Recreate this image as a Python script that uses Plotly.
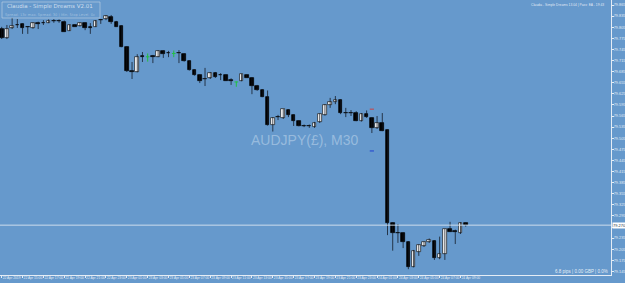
import plotly.graph_objects as go

# ---- data (AUDJPY M30) ----
x_labels = ["22 Apr 2019", "22 Apr 15:00", "22 Apr 17:00", "22 Apr 19:00", "22 Apr 21:00", "22 Apr 23:00",
            "23 Apr 01:00", "23 Apr 03:00", "23 Apr 05:00", "23 Apr 07:00", "23 Apr 09:00", "23 Apr 11:00",
            "23 Apr 13:00", "23 Apr 15:00", "23 Apr 17:00", "23 Apr 19:00", "23 Apr 21:00", "23 Apr 23:00",
            "24 Apr 01:00", "24 Apr 03:00", "24 Apr 05:00", "24 Apr 07:00", "24 Apr 09:00"]

opens = [79.800, 79.776, 79.803, 79.811, 79.814, 79.806, 79.803, 79.816, 79.817, 79.816,
         79.822, 79.822, 79.820, 79.796, 79.811, 79.808, 79.816, 79.805, 79.806, 79.825,
         79.826, 79.833, 79.820, 79.808, 79.752, 79.686, 79.685, 79.726, 79.725, 79.726,
         79.725, 79.741, 79.735, 79.734, 79.735, 79.733, 79.714, 79.689, 79.676, 79.664,
         79.667, 79.682, 79.676, 79.676, 79.661, 79.657, 79.660, 79.676, 79.669, 79.647,
         79.635, 79.617, 79.541, 79.562, 79.559, 79.581, 79.568, 79.551, 79.539, 79.538,
         79.534, 79.548, 79.568, 79.595, 79.604, 79.608, 79.574, 79.574, 79.574, 79.552,
         79.570, 79.559, 79.532, 79.545, 79.527, 79.277, 79.250, 79.248, 79.225, 79.158,
         79.198, 79.214, 79.224, 79.227, 79.180, 79.192, 79.259, 79.253, 79.250, 79.275]
highs = [79.806, 79.811, 79.830, 79.827, 79.815, 79.807, 79.818, 79.820, 79.824, 79.826,
         79.827, 79.826, 79.823, 79.812, 79.812, 79.818, 79.818, 79.816, 79.824, 79.827,
         79.838, 79.838, 79.822, 79.810, 79.754, 79.711, 79.732, 79.738, 79.734, 79.730,
         79.743, 79.742, 79.741, 79.742, 79.743, 79.734, 79.715, 79.691, 79.677, 79.695,
         79.684, 79.684, 79.681, 79.677, 79.667, 79.658, 79.679, 79.677, 79.670, 79.649,
         79.637, 79.634, 79.562, 79.568, 79.584, 79.583, 79.569, 79.553, 79.542, 79.542,
         79.549, 79.572, 79.597, 79.614, 79.619, 79.610, 79.587, 79.581, 79.578, 79.573,
         79.580, 79.561, 79.565, 79.573, 79.528, 79.278, 79.273, 79.250, 79.227, 79.203,
         79.218, 79.226, 79.234, 79.229, 79.239, 79.260, 79.279, 79.258, 79.278, 79.277]
lows = [79.773, 79.773, 79.800, 79.803, 79.787, 79.787, 79.801, 79.800, 79.811, 79.816,
        79.817, 79.817, 79.792, 79.795, 79.806, 79.807, 79.797, 79.787, 79.806, 79.814,
        79.824, 79.814, 79.806, 79.751, 79.684, 79.665, 79.683, 79.711, 79.712, 79.708,
        79.724, 79.722, 79.724, 79.724, 79.708, 79.712, 79.688, 79.674, 79.654, 79.646,
        79.665, 79.668, 79.662, 79.660, 79.649, 79.644, 79.659, 79.668, 79.624, 79.633,
        79.616, 79.539, 79.523, 79.554, 79.557, 79.562, 79.538, 79.537, 79.535, 79.533,
        79.533, 79.546, 79.566, 79.587, 79.597, 79.570, 79.562, 79.565, 79.551, 79.550,
        79.560, 79.519, 79.530, 79.524, 79.243, 79.201, 79.222, 79.208, 79.151, 79.156,
        79.187, 79.211, 79.222, 79.176, 79.178, 79.176, 79.252, 79.219, 79.246, 79.266]
closes = [79.776, 79.800, 79.808, 79.810, 79.803, 79.805, 79.816, 79.815, 79.816, 79.823,
          79.821, 79.821, 79.793, 79.811, 79.806, 79.816, 79.803, 79.804, 79.823, 79.824,
          79.835, 79.820, 79.806, 79.752, 79.687, 79.685, 79.725, 79.725, 79.725, 79.725,
          79.741, 79.733, 79.734, 79.734, 79.734, 79.714, 79.689, 79.676, 79.660, 79.666,
          79.682, 79.671, 79.675, 79.660, 79.660, 79.657, 79.678, 79.669, 79.647, 79.635,
          79.617, 79.541, 79.560, 79.561, 79.583, 79.568, 79.551, 79.539, 79.538, 79.537,
          79.547, 79.570, 79.595, 79.604, 79.608, 79.572, 79.573, 79.573, 79.552, 79.570,
          79.561, 79.532, 79.545, 79.525, 79.277, 79.250, 79.249, 79.225, 79.158, 79.200,
          79.216, 79.224, 79.230, 79.180, 79.191, 79.259, 79.252, 79.252, 79.277, 79.270]

price_ticks = [79.865, 79.835, 79.805, 79.775, 79.745, 79.715, 79.685, 79.655, 79.625, 79.595,
               79.565, 79.535, 79.505, 79.475, 79.445, 79.415, 79.385, 79.355, 79.325, 79.295,
               79.265, 79.235, 79.205, 79.175, 79.145]
current_price = 79.270

# ---- styling ----
BG = "#6699CC"
AXC = "#E4ECF5"
FONT = "Liberation Sans"
n = len(opens)
idx = list(range(n))

fig = go.Figure()

# wicks
wx, wy, gx, gy = [], [], [], []
for i in idx:
    if opens[i] == closes[i]:
        gx += [i, i, None, i - 0.35, i + 0.35, None]
        gy += [lows[i], highs[i], None, opens[i], opens[i], None]
    else:
        wx += [i, i, None]
        wy += [lows[i], highs[i], None]
fig.add_trace(go.Scatter(x=wx, y=wy, mode="lines", line=dict(color="rgba(15,20,30,0.75)", width=1),
                         hoverinfo="skip"))
fig.add_trace(go.Scatter(x=gx, y=gy, mode="lines", line=dict(color="#22C040", width=1), hoverinfo="skip"))

up = [i for i in idx if closes[i] > opens[i]]
dn = [i for i in idx if closes[i] < opens[i]]
fig.add_trace(go.Bar(x=up, base=[opens[i] for i in up], y=[closes[i] - opens[i] for i in up],
                     width=0.7, marker=dict(color="white", line=dict(color="#111", width=0.7))))
fig.add_trace(go.Bar(x=dn, base=[closes[i] for i in dn], y=[opens[i] - closes[i] for i in dn],
                     width=0.7, marker=dict(color="black", line=dict(color="#000", width=0.7))))

# small object marks
fig.add_trace(go.Scatter(x=[71], y=[79.5835], mode="markers",
                         marker=dict(symbol="line-ew", size=3, line=dict(color="#D04040", width=1))))
fig.add_trace(go.Scatter(x=[71], y=[79.4705], mode="markers",
                         marker=dict(symbol="line-ew", size=3, line=dict(color="#2040D0", width=1))))

# bid line
fig.add_shape(type="line", xref="paper", x0=0, x1=1, yref="y", y0=current_price, y1=current_price,
              line=dict(color="rgba(215,228,240,0.9)", width=1))
fig.add_annotation(xref="paper", x=1, yref="y", y=current_price, xanchor="left", yanchor="middle",
                   text="%.3f" % current_price, showarrow=False, bgcolor="white",
                   font=dict(size=4, color="#203040", family=FONT), xshift=1, borderpad=0)

# watermark
fig.add_annotation(xref="paper", yref="paper", x=304.5 / 611, y=1 - 140 / 275, text="AUDJPY(£), M30",
                   showarrow=False, font=dict(size=14, color="rgba(215,230,245,0.45)", family=FONT),
                   xanchor="center", yanchor="middle")

# info box top-left
fig.add_shape(type="rect", xref="paper", yref="paper", x0=2 / 611, x1=100 / 611, y0=1 - 18 / 275, y1=1 - 2 / 275,
              line=dict(color="rgba(200,215,230,0.55)", width=1), fillcolor="rgba(0,0,0,0)")
fig.add_annotation(xref="paper", yref="paper", x=5 / 611, y=1 - 6.5 / 275, text="Claudia - Simple Dreams V2.01",
                   showarrow=False, xanchor="left", yanchor="middle",
                   font=dict(size=5.5, color="rgba(225,235,245,0.85)", family="DejaVu Sans"))
fig.add_annotation(xref="paper", yref="paper", x=3 / 611, y=1 - 14.5 / 275,
                   text="Spread: 13c max. Spread: 30 | Min. Stop Level: 0c",
                   showarrow=False, xanchor="left", yanchor="middle",
                   font=dict(size=3.6, color="rgba(190,210,230,0.7)", family="DejaVu Sans"))
# top-right info
fig.add_annotation(xref="paper", yref="paper", x=606 / 611, y=1 - 5 / 275,
                   text="Claudia - Simple Dreams 13.04 | Pass: EA - 19:43",
                   showarrow=False, xanchor="right", yanchor="middle",
                   font=dict(size=3.3, color="rgba(235,240,248,0.95)", family=FONT))
# bottom-right info
fig.add_annotation(xref="paper", yref="paper", x=610 / 611, y=1 - 271 / 275,
                   text="6.8 pips | 0.00 GBP | 0.0%",
                   showarrow=False, xanchor="right", yanchor="middle",
                   font=dict(size=4.5, color="rgba(240,245,250,0.95)", family=FONT))

tick_text = ["%.3f" % v for v in price_ticks]
tick_text = ["" if abs(v - current_price) < 0.008 else t for v, t in zip(price_ticks, tick_text)]

px_per_bar = 5.2135
x0 = -1.7 / px_per_bar
fig.update_layout(
    width=625, height=283, margin=dict(l=0, r=14, t=0, b=8, pad=0),
    paper_bgcolor=BG, plot_bgcolor=BG, showlegend=False, barmode="overlay", bargap=0,
    xaxis=dict(range=[x0, x0 + 611 / px_per_bar], tickvals=list(range(0, n, 4)), ticktext=x_labels,
               tickfont=dict(size=3.3, color=AXC, family=FONT), ticks="outside", ticklen=2, tickangle=0,
               tickcolor=AXC, showline=True, linecolor=AXC, linewidth=1, showgrid=False, zeroline=False,
               ticklabelposition="outside right", ticklabelstandoff=-1, automargin=False, fixedrange=True),
    yaxis=dict(range=[79.8785 - 0.0027027 * 275, 79.8785], side="right", tickvals=price_ticks,
               ticktext=tick_text,
               tickfont=dict(size=3.8, color=AXC, family=FONT), ticks="outside", ticklen=2,
               tickcolor=AXC, showline=True, linecolor=AXC, linewidth=1, showgrid=False, zeroline=False,
               ticklabelstandoff=-1, automargin=False, fixedrange=True),
)

fig.write_html("out.html")
